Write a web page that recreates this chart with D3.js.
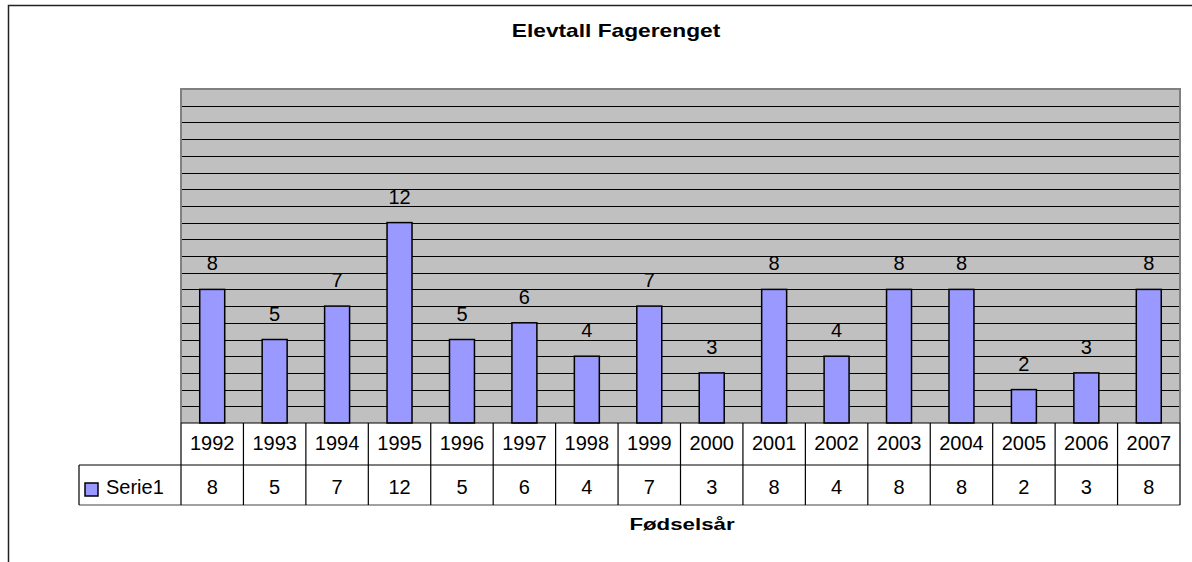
<!DOCTYPE html>
<html>
<head>
<meta charset="utf-8">
<script src="https://cdn.jsdelivr.net/npm/d3@7"></script>
<style>
  body { margin: 0; background: #fff; }
  svg { display: block; font-family: "Liberation Sans", Arial, sans-serif; }
</style>
</head>
<body>
<svg id="chart" width="1192" height="562"></svg>
<script>
// Chart data
const years = ["1992", "1993", "1994", "1995", "1996", "1997", "1998", "1999",
               "2000", "2001", "2002", "2003", "2004", "2005", "2006", "2007"];
const serie1 = [8, 5, 7, 12, 5, 6, 4, 7, 3, 8, 4, 8, 8, 2, 3, 8];
const seriesName = "Serie1";
const yTicks = d3.range(1, 20);

const svg = d3.select("#chart");

// layout
const plot = { left: 181, right: 1180, top: 89, bottom: 423 };
const row1 = 465, row2 = 505, legendLeft = 79;
const fs = 20;

const x = d3.scaleBand().domain(years).range([plot.left, plot.right]).padding(0);
const y = d3.scaleLinear().domain([0, 20]).range([plot.bottom, plot.top]);
const barW = x.bandwidth() * 0.4;

// outer chart border (clipped on right and bottom)
svg.append("rect")
  .attr("x", 8.5).attr("y", 5.5)
  .attr("width", 1300).attr("height", 700)
  .attr("fill", "none").attr("stroke", "#222").attr("stroke-width", 1.5);

// plot background
svg.append("rect")
  .attr("x", plot.left).attr("y", plot.top)
  .attr("width", plot.right - plot.left).attr("height", plot.bottom - plot.top)
  .attr("fill", "#c0c0c0");

// gridlines
svg.append("g").selectAll("line").data(yTicks).join("line")
  .attr("x1", plot.left).attr("x2", plot.right)
  .attr("y1", d => Math.round(y(d)) + 0.5).attr("y2", d => Math.round(y(d)) + 0.5)
  .attr("stroke", "#000").attr("stroke-width", 1);

// plot border (left, top, right)
svg.append("path")
  .attr("d", `M${plot.left},${plot.bottom}V${plot.top}H${plot.right}V${plot.bottom}`)
  .attr("fill", "none").attr("stroke", "#808080").attr("stroke-width", 2);

// bars
svg.append("g").selectAll("rect").data(serie1).join("rect")
  .attr("x", (d, i) => x(years[i]) + (x.bandwidth() - barW) / 2)
  .attr("y", d => y(d))
  .attr("width", barW)
  .attr("height", d => y(0) - y(d))
  .attr("fill", "#9999ff")
  .attr("stroke", "#000").attr("stroke-width", 1.5);

// data labels
svg.append("g").selectAll("text").data(serie1).join("text")
  .attr("x", (d, i) => x(years[i]) + x.bandwidth() / 2)
  .attr("y", d => y(d) - 19)
  .attr("text-anchor", "middle")
  .attr("font-size", fs)
  .attr("fill", "#000")
  .text(d => d);

// data table lines
const tbl = svg.append("g").attr("stroke", "#000").attr("stroke-width", 1.2);
tbl.append("line").attr("x1", plot.left).attr("x2", plot.right)
  .attr("y1", plot.bottom).attr("y2", plot.bottom);
tbl.append("line").attr("x1", legendLeft).attr("x2", plot.right)
  .attr("y1", row1).attr("y2", row1);
tbl.append("line").attr("x1", legendLeft).attr("x2", plot.right)
  .attr("y1", row2).attr("y2", row2).attr("stroke", "#444");
tbl.append("line").attr("x1", legendLeft).attr("x2", legendLeft)
  .attr("y1", row1).attr("y2", row2);
tbl.selectAll(".col").data(years.concat(["end"])).join("line")
  .attr("class", "col")
  .attr("x1", (d, i) => i < years.length ? x(d) : plot.right)
  .attr("x2", (d, i) => i < years.length ? x(d) : plot.right)
  .attr("y1", plot.bottom).attr("y2", row2);

// table text: years
svg.append("g").selectAll("text").data(years).join("text")
  .attr("x", d => x(d) + x.bandwidth() / 2)
  .attr("y", 450)
  .attr("text-anchor", "middle")
  .attr("font-size", fs)
  .text(d => d);

// table text: values
svg.append("g").selectAll("text").data(serie1).join("text")
  .attr("x", (d, i) => x(years[i]) + x.bandwidth() / 2)
  .attr("y", 494)
  .attr("text-anchor", "middle")
  .attr("font-size", fs)
  .text(d => d);

// legend key
svg.append("rect")
  .attr("x", 85).attr("y", 483).attr("width", 13).attr("height", 13)
  .attr("fill", "#9999ff").attr("stroke", "#000").attr("stroke-width", 1.5);
svg.append("text")
  .attr("x", 106).attr("y", 494)
  .attr("font-size", fs)
  .text(seriesName);

// title (wide, as in the original rendering)
svg.append("text")
  .attr("transform", "translate(616,37) scale(1.3,1)")
  .attr("text-anchor", "middle")
  .attr("font-size", 17.5).attr("font-weight", "bold")
  .text("Elevtall Fagerenget");

// axis title
svg.append("text")
  .attr("transform", "translate(682,530) scale(1.35,1)")
  .attr("text-anchor", "middle")
  .attr("font-size", 16.5).attr("font-weight", "bold")
  .text("Fødselsår");
</script>
</body>
</html>
